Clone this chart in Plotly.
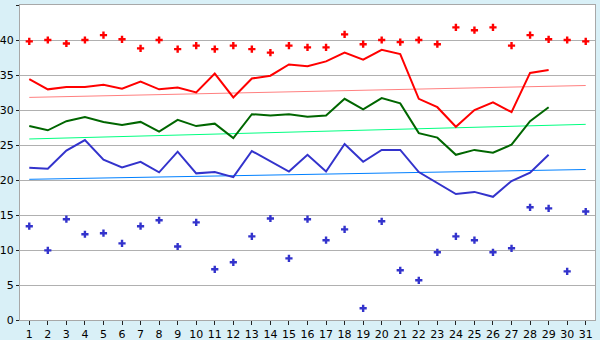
import plotly.graph_objects as go

days = list(range(1, 32))

max_points = [39.8, 40.0, 39.5, 40.0, 40.7, 40.1, 38.8, 40.0, 38.7, 39.2,
              38.7, 39.2, 38.7, 38.2, 39.2, 38.95, 38.95, 40.8, 39.4, 40.0,
              39.7, 40.0, 39.4, 41.8, 41.4, 41.8, 39.2, 40.7, 40.1, 40.0, 39.8]
min_points = [13.4, 9.95, 14.4, 12.25, 12.4, 10.95, 13.4, 14.25, 10.5, 13.95,
              7.24, 8.24, 11.95, 14.5, 8.8, 14.4, 11.4, 12.95, 1.67, 14.1,
              7.1, 5.67, 9.67, 11.95, 11.4, 9.67, 10.24, 16.1, 15.95, 6.95, 15.5]
max_line = [34.4, 32.95, 33.3, 33.3, 33.6, 33.05, 34.05, 32.95, 33.2, 32.5,
            35.2, 31.8, 34.5, 34.9, 36.5, 36.25, 36.95, 38.2, 37.2, 38.6,
            38.0, 31.6, 30.4, 27.6, 30.0, 31.1, 29.7, 35.3, 35.7]
mean_line = [27.7, 27.1, 28.4, 29.0, 28.3, 27.86, 28.3, 26.9, 28.6, 27.7,
             28.05, 26.0, 29.4, 29.2, 29.4, 29.05, 29.2, 31.6, 30.1, 31.7,
             30.95, 26.7, 26.05, 23.6, 24.3, 23.9, 25.05, 28.4, 30.4]
min_line = [21.76, 21.6, 24.2, 25.7, 22.9, 21.8, 22.6, 21.1, 24.05, 20.95,
            21.14, 20.4, 24.14, 22.7, 21.2, 23.6, 21.2, 25.14, 22.6, 24.3,
            24.3, 21.14, 19.6, 18.0, 18.3, 17.6, 19.86, 21.05, 23.6]
trend_days = [1, 31]
max_trend = [31.8, 33.5]
mean_trend = [25.86, 27.95]
min_trend = [20.1, 21.5]
y_ticks = [0, 5, 10, 15, 20, 25, 30, 35, 40, 45]

fig = go.Figure()

fig.add_trace(go.Scatter(x=trend_days, y=max_trend, mode="lines",
                         line=dict(color="#FF8080", width=1)))
fig.add_trace(go.Scatter(x=trend_days, y=mean_trend, mode="lines",
                         line=dict(color="#00FF80", width=1)))
fig.add_trace(go.Scatter(x=trend_days, y=min_trend, mode="lines",
                         line=dict(color="#0080FF", width=1)))

fig.add_trace(go.Scatter(x=days[:len(max_line)], y=max_line, mode="lines",
                         line=dict(color="#FF0000", width=2)))
fig.add_trace(go.Scatter(x=days[:len(mean_line)], y=mean_line, mode="lines",
                         line=dict(color="#006600", width=2)))
fig.add_trace(go.Scatter(x=days[:len(min_line)], y=min_line, mode="lines",
                         line=dict(color="#3333CC", width=2)))

fig.add_trace(go.Scatter(x=days, y=max_points, mode="markers",
                         marker=dict(symbol="cross", size=6, color="#FF0000",
                                     line=dict(width=0))))
fig.add_trace(go.Scatter(x=days, y=min_points, mode="markers",
                         marker=dict(symbol="cross", size=6, color="#3333CC",
                                     line=dict(width=0))))

fig.update_layout(
    width=600, height=340,
    margin=dict(l=20, r=5, t=5, b=20),
    paper_bgcolor="#D9F0F7",
    plot_bgcolor="#FFFFFF",
    showlegend=False,
    font=dict(family="DejaVu Sans", size=11, color="#000000"),
)
fig.update_xaxes(
    range=[0.5, 31.5], tickmode="array", tickvals=days,
    ticktext=[str(d) for d in days],
    showgrid=False, zeroline=False, automargin=False,
    showline=True, linecolor="#A8A8A8", linewidth=1, mirror=True,
    ticks="outside", ticklen=4, tickcolor="#222222",
    tickfont=dict(size=11),
)
fig.update_yaxes(
    range=[0, 45], tickmode="array", tickvals=y_ticks,
    showgrid=True, gridcolor="#B0B0B0", gridwidth=1, zeroline=False,
    automargin=False,
    showline=True, linecolor="#A8A8A8", linewidth=1, mirror=True,
    ticks="outside", ticklen=3, tickcolor="#222222",
    tickfont=dict(size=11),
)

fig.write_html("out.html")
